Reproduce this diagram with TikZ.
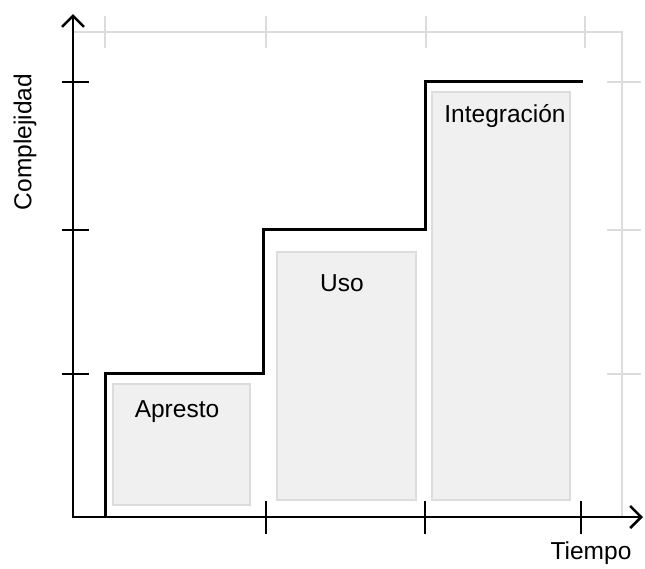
\documentclass[tikz,border=0pt]{standalone}
\usepackage{fontspec}
\setmainfont{Liberation Sans}
\usetikzlibrary{arrows.meta}
\definecolor{gridgray}{HTML}{DCDCDC}
\definecolor{stagefill}{HTML}{F0F0F0}

\begin{document}
\begin{tikzpicture}[x=1pt, y=-1pt, >={Straight Barb[length=11pt,width=22pt]},
    axisline/.style={line width=2.5pt, line cap=round},
    gridline/.style={draw=gridgray, line width=2pt},
    stage/.style={rectangle, draw=gridgray, fill=stagefill, line width=2pt, inner sep=0pt},
    label/.style={font=\fontsize{24.5}{29}\selectfont, text=black}]
        \useasboundingbox (0,0) rectangle (645,568);

        % Axis points
        \coordinate (O) at (73,517);
        \coordinate (Ytop) at (73,14);
        \coordinate (Xend) at (643,517);
        \coordinate (Gtl) at (73,32);
        \coordinate (Gtr) at (622,32);
        \coordinate (Gbr) at (622,517);

        % Grey frame and ticks
        \draw[gridline] (Gtl) -- (Gtr) -- (Gbr);
        \foreach \x in {105,266,426,585}
        \draw[gridline] (\x,16) -- (\x,48);
        \foreach \y in {82,230,374}
        \draw[gridline] (607,\y) -- (641,\y);

        % Stages
        \node[stage, minimum width=137pt, minimum height=121pt] (S1) at (181.5,444.5) {};
        \node[stage, minimum width=139pt, minimum height=248pt] (S2) at (346.5,376) {};
        \node[stage, minimum width=138pt, minimum height=408pt] (S3) at (501,296) {};

        % Stage labels
        \node[label] (L1) at (177,412) {Apresto};
        \node[label] (L2) at (342,283) {Uso};
        \node[label] (L3) at (505,116) {Integración};

        % Axes
        \draw[axisline, ->] (O) -- (Ytop);
        \draw[axisline, ->] (O) -- (Xend);
        \foreach \y in {82,230,374}
        \draw[line width=2pt] (62,\y) -- (89,\y);
        \foreach \x in {266,425,581}
        \draw[line width=2.5pt] (\x,501) -- (\x,534);

        % Staircase
        \coordinate (C0) at (105,517);
        \coordinate (C1) at (105,373);
        \coordinate (C2) at (263,373);
        \coordinate (C3) at (263,229);
        \coordinate (C4) at (425,229);
        \coordinate (C5) at (425,81);
        \coordinate (C6) at (583,81);
        \draw[line width=3pt] (C0) -- (C1) -- (C2) -- (C3) -- (C4) -- (C5) -- (C6);

        % Axis labels
        \node[label, rotate=90] (Ylab) at (25,142) {Complejidad};
        \node[label] (Xlab) at (591,553) {Tiempo};
    \end{tikzpicture}
\end{document}
